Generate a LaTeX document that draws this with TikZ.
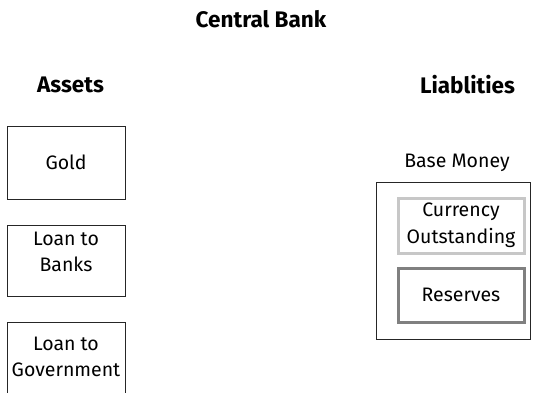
\documentclass[tikz,border=0pt]{standalone}
\usepackage{fontspec}
\setmainfont{Fira Sans}
\begin{document}
\begin{tikzpicture}[x=1pt,y=-1pt,
  lbl/.style={font=\fontsize{19.5}{26.5}\selectfont, align=center, inner sep=0pt},
  hdr/.style={font=\fontsize{22.5}{26}\selectfont\bfseries, inner sep=0pt},
  blackbox/.style={draw=black!85, line width=1pt},
  lightbox/.style={draw=black!22, line width=3pt},
  darkbox/.style={draw=black!50, line width=3pt}]
\useasboundingbox (0,0) rectangle (538,393);
\clip (0,0) rectangle (538,393);
\node[hdr] (title) at (261,19) {Central Bank};
\node[hdr] (assets) at (70.5,85) {Assets};
\node[hdr] (liab) at (467.5,85) {Liablities};
% assets
\draw[blackbox] (7,127) rectangle (125,199);
\node[lbl] (gold) at (66,162) {Gold};
\draw[blackbox] (7,225) rectangle (125,296);
\node[lbl] (lbanks) at (66,252) {Loan to\\Banks};
\draw[blackbox] (7,322) rectangle (125,420);
\node[lbl] (lgov) at (66,357) {Loan to\\Government};
% liabilities
\node[lbl] (base) at (457,163) {Base Money};
\draw[blackbox] (376,182) rectangle (530,339);
\draw[lightbox] (398,198) rectangle (524,253);
\node[lbl] (curr) at (461,225) {Currency\\Outstanding};
\draw[darkbox] (398,268) rectangle (524,322);
\node[lbl] (res) at (461,295) {Reserves};
\end{tikzpicture}
\end{document}
